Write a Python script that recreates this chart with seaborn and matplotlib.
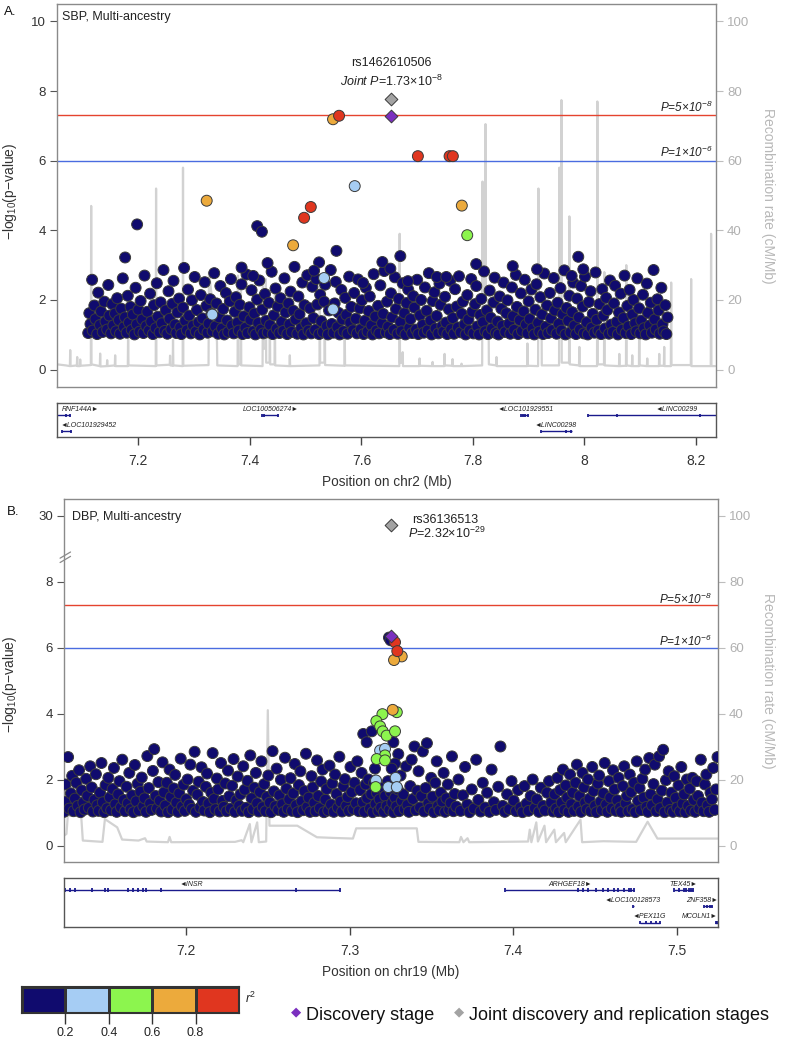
"""
Regional association plots (LocusZoom style) for the SBP and DBP multi-ancestry
lead variants: -log10(p) coloured by LD r2, recombination rate on a twin axis,
and a gene track under each panel.
"""
import numpy as np
import pandas as pd
import matplotlib.pyplot as plt
import seaborn as sns
from matplotlib.colors import ListedColormap

sns.set_theme(style="white")
plt.rcParams["font.family"] = ["Liberation Sans", "DejaVu Sans"]
plt.rcParams["mathtext.fontset"] = "custom"
plt.rcParams["mathtext.rm"] = "Liberation Sans"
plt.rcParams["mathtext.it"] = "Liberation Sans:italic"
plt.rcParams["mathtext.default"] = "regular"

LD_COLORS = ["#100b6e", "#a6cdf4", "#8cf54e", "#ecaa3c", "#e0361f"]
LD_TICKS = [0.2, 0.4, 0.6, 0.8]
NAVY = "#1a1a8c"
EDGE = "#3a3a3a"

# ---------------- panel A : SBP, chr2 ----------------
SBP_XLIM = (7.054, 8.236)
SBP_XTICKS = [7.2, 7.4, 7.6, 7.8, 8.0, 8.2]
SBP_XTICKLABELS = ["7.2", "7.4", "7.6", "7.8", "8", "8.2"]

# background variants (kb, -log10 p), r2 < 0.2
sbp_band = """
7110 1.05 7112 1.62 7114 1.31 7117 2.58 7118 1.12 7121 1.84 7123 1.45 7126 1.02 7128 2.21 7131 1.28 7133 1.67 7136 1.08 7139 1.95 7141 1.38 7144 1.15 7146 2.43 7148 1.55
7151 1.04 7153 1.88 7155 1.27 7158 1.61 7160 1.10 7162 2.05 7165 1.42 7167 1.03 7169 1.75 7172 2.62 7174 1.22 7176 1.50 7179 1.06 7181 2.12 7183 1.35 7186 1.80 7188 1.14
7190 1.58 7193 1.01 7195 2.35 7197 1.30 7200 1.72 7202 1.09 7204 1.97 7207 1.44 7209 1.05 7211 2.70 7214 1.25 7216 1.66 7219 1.12 7221 2.18 7223 1.38 7226 1.02 7228 1.85
7231 1.19 7233 2.48 7235 1.52 7238 1.07 7240 1.93 7242 1.33 7245 2.86 7247 1.11 7249 1.70 7252 1.03 7254 2.25 7256 1.46 7259 1.16 7261 1.89 7263 2.55 7266 1.29 7268 1.05
7270 1.64 7273 2.04 7275 1.21 7277 1.02 7280 1.78 7282 2.92 7284 1.40 7287 1.13 7289 2.30 7291 1.55 7294 1.04 7296 1.99 7298 1.26 7301 2.66 7303 1.09 7305 1.71 7308 1.36
7310 1.01 7312 2.14 7315 1.47 7317 1.15 7319 2.51 7322 1.83 7324 1.06 7326 1.32 7329 2.02 7331 1.60 7333 1.10 7336 2.77 7338 1.24 7340 1.90 7343 1.03 7345 1.50 7347 2.40
7350 1.18 7352 1.74 7354 1.01 7357 2.20 7359 1.41 7361 1.08 7364 1.96 7366 2.60 7368 1.27 7371 1.04 7373 1.66 7375 2.08 7378 1.35 7380 1.12 7382 1.86 7385 2.45 7387 1.02
7389 1.53 7392 1.20 7394 2.73 7396 1.05 7399 1.79 7401 1.43 7403 2.28 7406 1.10 7408 1.61 7410 1.01 7413 2.01 7415 1.34 7417 2.56 7420 1.15 7422 1.72 7424 1.04 7427 2.17 7429 1.40
7432 1.07 7434 1.92 7436 1.28 7439 2.81 7441 1.02 7443 1.56 7446 2.33 7448 1.17 7450 1.81 7453 1.05 7455 2.05 7457 1.37 7460 1.11 7462 2.62 7464 1.64 7467 1.02 7469 1.90
7471 1.30 7473 2.24 7475 1.08 7478 1.69 7480 2.95 7482 1.44 7485 1.03 7487 2.10 7489 1.59 7492 1.19 7494 2.50 7496 1.01 7498 1.85 7501 1.33 7503 2.71 7505 1.12 7508 1.76
7510 1.04 7512 2.38 7514 1.48 7517 1.14 7519 2.60 7521 1.87 7524 1.02 7526 2.15 7528 1.39 7531 1.08 7533 1.95 7535 2.44 7538 1.25 7540 1.01 7542 1.70 7545 2.86 7547 1.31
7550 1.06 7552 1.90 7554 2.52 7557 1.22 7559 1.63 7561 1.01 7564 2.29 7566 1.44 7568 1.10 7571 2.06 7573 1.57 7575 1.03 7578 2.67 7580 1.35 7582 1.80 7585 1.13 7587 2.20
7590 1.46 7592 1.04 7594 2.59 7597 1.76 7599 1.16 7601 1.99 7604 1.02 7606 1.40 7608 2.35 7611 1.09 7613 1.68 7615 2.10 7618 1.27 7620 1.01 7622 2.74 7625 1.52 7627 1.12
7630 1.83 7632 1.04 7634 2.42 7637 1.33 7639 1.60 7641 2.83 7644 1.07 7646 1.95 7648 1.23 7651 1.02 7653 2.19 7655 1.50 7658 1.14 7660 2.65 7662 1.74 7665 1.03 7667 2.03
7670 1.37 7672 1.10 7674 2.48 7677 1.62 7679 1.01 7681 1.91 7684 2.30 7686 1.20 7688 1.45 7691 1.05 7693 2.11 7695 1.78 7698 1.15 7700 2.58 7702 1.02 7705 1.56 7707 2.00
7710 1.28 7712 1.06 7714 2.36 7717 1.69 7719 1.13 7721 2.77 7724 1.41 7726 1.01 7728 1.97 7731 2.22 7733 1.18 7735 1.54 7738 1.04 7740 2.47 7742 1.86 7745 1.25 7747 1.09
7750 2.09 7752 1.35 7754 1.02 7757 1.73 7759 2.55 7761 1.16 7764 1.48 7766 1.03 7768 2.31 7771 1.81 7773 1.21 7775 2.68 7778 1.07 7780 1.60 7782 1.95 7785 1.30 7787 1.01
7790 2.14 7792 1.44 7794 1.12 7797 2.60 7799 1.66 7801 1.04 7804 1.88 7806 2.40 7808 1.24 7811 1.01 7813 1.57 7815 2.03 7818 1.36 7820 2.82 7822 1.10 7825 1.70 7827 1.02
7830 2.27 7832 1.49 7834 1.17 7837 1.93 7839 2.64 7841 1.05 7844 1.38 7846 1.01 7848 2.10 7851 1.75 7853 1.26 7855 2.50 7858 1.08 7860 1.62 7862 1.99 7865 1.32 7867 1.03
7870 2.36 7872 1.53 7874 1.14 7877 2.72 7879 1.80 7881 1.02 7884 1.42 7886 2.19 7888 1.11 7891 1.67 7893 2.58 7895 1.29 7898 1.04 7900 1.96 7902 1.45 7905 2.30 7907 1.18
7910 1.01 7912 1.72 7914 2.45 7917 1.34 7919 1.09 7921 2.08 7924 1.58 7926 1.02 7928 2.76 7931 1.23 7933 1.84 7935 1.05 7938 2.20 7940 1.47 7942 1.13 7945 2.63 7947 1.70
7950 1.03 7952 1.92 7954 1.31 7957 2.34 7959 1.12 7961 1.59 7964 2.85 7966 1.01 7968 1.77 7971 1.40 7973 2.12 7975 1.07 7978 1.65 7980 2.50 7982 1.26 7985 1.02 7987 2.04
7990 1.50 7992 1.15 7994 2.40 7997 1.81 7999 1.04 8001 2.67 8004 1.36 8006 1.01 8008 1.94 8011 2.25 8013 1.20 8015 1.60 8018 1.06 8020 2.79 8022 1.43 8025 1.12 8027 1.88
8030 1.02 8032 2.31 8034 1.55 8037 1.18 8039 2.06 8041 1.71 8044 1.03 8046 2.56 8048 1.29 8051 1.08 8053 1.90 8055 2.41 8058 1.37 8060 1.01 8062 1.64 8065 2.18 8067 1.14
8070 1.48 8072 2.70 8074 1.05 8077 1.83 8079 1.24 8081 2.29 8084 1.02 8086 1.58 8088 2.00 8091 1.33 8093 1.10 8095 2.62 8098 1.76 8100 1.04 8102 1.41 8105 2.15 8107 1.19
8110 1.01 8112 2.47 8114 1.63 8117 1.27 8119 1.92 8121 1.06 8124 2.86 8126 1.44 8128 1.15 8131 2.02 8133 1.70 8135 1.03 8138 2.35 8140 1.30 8142 1.10 8145 1.85 8147 1.02 8149 1.50
"""

# stand-out variants (Mb, -log10 p, LD bin 0..4)
sbp_top_pos = [7.5491, 7.5599, 7.5880, 7.3225, 7.7013, 7.7581, 7.7640, 7.5092, 7.4972,
               7.4775, 7.7801, 7.7898, 7.5330, 7.3325, 7.5491,
               7.1977, 7.1762, 7.4131, 7.4215, 7.4317, 7.5552, 7.6698, 7.6376, 7.6519,
               7.9890, 7.9980, 7.8714, 7.9151, 7.8059, 7.5241, 7.5151, 7.3851, 7.4059,
               7.7354, 7.7522, 7.9771, 7.6834, 7.6029]
sbp_top_logp = [7.19, 7.29, 5.27, 4.85, 6.13, 6.13, 6.13, 4.67, 4.36,
                3.57, 4.71, 3.86, 2.63, 1.58, 1.73,
                4.17, 3.22, 4.12, 3.96, 3.06, 3.41, 3.26, 3.09, 2.90,
                3.24, 2.88, 2.97, 2.88, 3.03, 3.08, 2.84, 2.93, 2.69,
                2.66, 2.66, 2.69, 2.54, 2.49]
sbp_top_ld = [3, 4, 1, 3, 4, 4, 4, 4, 4, 3, 3, 2, 1, 1, 1] + [0] * 23

SBP_LEAD = "rs1462610506"
sbp_lead_pos = 7.6537
sbp_lead_disc = 7.29
sbp_lead_joint = 7.76

# recombination rate (kb, cM/Mb)
sbp_recomb = [
    (7054.4, 1.5), (7070.0, 1.2), (7077.1, 1.0), (7077.7, 5.6), (7078.3, 1.0), (7089.6, 1.2),
    (7090.2, 3.6), (7090.8, 1.0), (7095.0, 1.0), (7095.6, 2.9), (7096.2, 1.1), (7114.7, 1.3),
    (7115.3, 47.0), (7115.9, 1.5), (7130.8, 1.0), (7131.4, 4.6), (7132.0, 0.9), (7143.4, 1.0),
    (7144.0, 2.7), (7144.6, 1.0), (7157.7, 1.2), (7158.3, 4.1), (7158.9, 1.0), (7181.0, 1.0),
    (7181.6, 12.0), (7182.2, 1.2), (7231.1, 1.0), (7231.7, 52.0), (7232.3, 1.2), (7256.2, 1.4),
    (7256.8, 4.0), (7257.4, 1.2), (7261.5, 1.1), (7262.1, 8.5), (7262.7, 1.2), (7279.4, 1.0),
    (7280.0, 58.0), (7280.6, 1.1), (7325.8, 1.3), (7326.6, 28.0), (7340.9, 8.0), (7341.5, 1.2),
    (7377.9, 1.0), (7378.5, 27.0), (7379.1, 1.5), (7383.3, 1.5), (7383.9, 25.0), (7384.5, 1.2),
    (7422.7, 1.0), (7423.3, 24.0), (7423.9, 6.0), (7428.0, 6.0), (7428.6, 26.0), (7429.2, 2.0),
    (7435.2, 2.0), (7435.8, 18.0), (7436.4, 1.5), (7444.2, 1.5), (7444.8, 22.0), (7445.4, 1.2),
    (7471.0, 1.0), (7471.6, 4.1), (7472.2, 1.0), (7524.8, 1.2), (7525.4, 24.0), (7526.0, 2.0),
    (7533.7, 2.0), (7534.3, 25.0), (7534.9, 1.3), (7569.5, 1.1), (7570.1, 10.0), (7570.7, 1.2),
    (7668.0, 1.0), (7668.6, 39.0), (7669.2, 2.0), (7673.4, 2.0), (7674.0, 5.0), (7674.6, 1.0),
    (7703.8, 1.0), (7704.4, 3.2), (7705.0, 1.1), (7727.1, 1.0), (7727.7, 2.2), (7728.3, 1.0),
    (7748.6, 1.0), (7749.2, 4.5), (7749.8, 1.2), (7762.9, 1.1), (7763.5, 3.0), (7764.1, 1.0),
    (7779.0, 1.0), (7779.6, 1.7), (7780.2, 1.0), (7816.6, 1.2), (7817.2, 54.0), (7817.8, 22.0),
    (7822.0, 22.0), (7822.6, 70.5), (7823.2, 20.0), (7828.0, 20.0), (7828.6, 1.5), (7841.7, 1.2),
    (7842.3, 3.6), (7842.9, 1.0), (7897.2, 1.0), (7897.8, 7.5), (7898.4, 1.1), (7916.9, 1.0),
    (7917.5, 52.0), (7918.1, 20.0), (7922.9, 20.0), (7923.5, 1.2), (7954.5, 1.2), (7955.1, 58.0),
    (7955.7, 25.0), (7958.1, 25.0), (7958.7, 77.4), (7959.3, 2.0), (7972.4, 2.0), (7973.0, 44.0),
    (7973.6, 1.5), (7990.3, 1.2), (7990.9, 6.5), (7991.5, 1.0), (8022.6, 1.0), (8023.2, 77.0),
    (8023.8, 1.5), (8035.1, 1.5), (8035.7, 28.0), (8036.3, 1.2), (8062.0, 1.0), (8062.6, 4.5),
    (8063.2, 1.0), (8074.5, 1.1), (8075.1, 30.0), (8075.7, 1.2), (8085.2, 1.0), (8085.8, 4.1),
    (8086.4, 1.0), (8097.8, 1.0), (8098.4, 20.0), (8099.0, 1.2), (8112.1, 1.0), (8112.7, 3.2),
    (8113.3, 1.0), (8133.6, 1.0), (8134.2, 4.5), (8134.8, 1.1), (8142.5, 1.1), (8143.1, 6.5),
    (8143.7, 1.0), (8155.0, 1.0), (8155.6, 25.0), (8156.2, 1.3), (8190.8, 1.3), (8191.4, 26.0),
    (8192.0, 1.0), (8226.6, 1.0), (8227.2, 39.0), (8227.8, 1.0), (8234.4, 1.0),
]

sbp_gene_names = ["RNF144A", "LOC101929452", "LOC100506274", "LOC101929551", "LINC00298", "LINC00299"]
sbp_gene_start = [7.0544, 7.0628, 7.4210, 7.8865, 7.9223, 8.0070]
sbp_gene_end = [7.0777, 7.0790, 7.4507, 7.8995, 7.9770, 8.2360]
sbp_gene_row = [0, 1, 0, 0, 1, 0]
sbp_gene_strand = ["+", "-", "+", "-", "-", "-"]
sbp_gene_exons = [[7.0710, 7.0777], [7.0628, 7.0790], [7.4210, 7.4255, 7.4507],
                  [7.8865, 7.8900, 7.8940, 7.8995], [7.9223, 7.9670, 7.9760],
                  [8.0070, 8.0590, 8.2070]]
sbp_label_x = [7.063, 7.060, 7.4376, 7.8950, 7.9480, 8.1650]
sbp_label_ha = ["left", "left", "center", "center", "center", "center"]

# ---------------- panel B : DBP, chr19 ----------------
DBP_XLIM = (7.1255, 7.525)
DBP_XTICKS = [7.2, 7.3, 7.4, 7.5]
DBP_XTICKLABELS = ["7.2", "7.3", "7.4", "7.5"]

dbp_band = """
7125.5 1.02 7126.4 1.85 7127.1 1.33 7128.0 2.68 7128.8 1.12 7129.7 1.58 7130.5 2.11 7131.3 1.04 7132.2 1.42 7133.0 1.90 7133.9 1.20 7134.7 2.28 7135.6 1.01 7136.4 1.67 7137.3 1.30 7138.1 1.09 7139.0 2.02 7139.8 1.50 7140.7 1.14 7141.5 2.40 7142.4 1.76 7143.2 1.03 7144.1 1.38
7145.0 2.16 7145.8 1.22 7146.7 1.05 7147.5 1.60 7148.4 2.50 7149.2 1.31 7150.1 1.01 7150.9 1.83 7151.8 1.13 7152.6 2.05 7153.5 1.46 7154.3 1.07 7155.2 1.71 7156.0 2.35 7156.9 1.25 7157.7 1.02 7158.6 1.55 7159.4 1.95 7160.3 1.16 7161.1 2.60 7162.0 1.38 7162.8 1.04 7163.7 1.78 7164.5 1.28
7165.4 2.20 7166.2 1.10 7167.1 1.52 7167.9 1.01 7168.8 2.44 7169.6 1.34 7170.5 1.87 7171.3 1.06 7172.2 1.63 7173.0 2.06 7173.9 1.19 7174.7 1.43 7175.6 1.02 7176.4 2.71 7177.3 1.74 7178.1 1.27 7179.0 1.08 7179.8 2.26 7180.6 2.92 7181.5 1.50 7182.3 1.12 7183.2 1.92 7184.0 1.36
7184.9 1.03 7185.7 2.52 7186.6 1.61 7187.4 1.21 7188.3 1.90 7189.1 1.01 7190.0 2.30 7190.8 1.47 7191.7 1.09 7192.5 1.73 7193.4 2.14 7194.2 1.30 7195.1 1.02 7195.9 1.58 7196.8 2.63 7197.6 1.18 7198.5 1.84 7199.3 1.05 7200.2 1.40 7201.0 2.00 7201.9 1.24 7202.7 2.45 7203.6 1.11 7204.4 1.66
7205.3 2.84 7206.1 1.02 7207.0 1.54 7207.8 1.93 7208.7 1.15 7209.5 2.37 7210.4 1.32 7211.2 1.06 7212.1 1.78 7212.9 2.18 7213.8 1.27 7214.6 1.01 7215.5 1.60 7216.3 2.80 7217.2 1.41 7218.0 1.10 7218.9 2.03 7219.7 1.70 7220.6 1.03 7221.4 2.50 7222.3 1.35 7223.1 1.17 7224.0 1.88 7224.8 1.04
7225.7 2.27 7226.5 1.49 7227.4 1.12 7228.2 1.81 7229.1 2.62 7229.9 1.02 7230.8 1.37 7231.6 2.09 7232.5 1.20 7233.3 1.55 7234.2 1.05 7235.0 2.40 7235.9 1.69 7236.7 1.14 7237.6 1.96 7238.4 1.01 7239.3 2.73 7240.1 1.43 7241.0 1.10 7241.8 1.75 7242.7 2.20 7243.5 1.28 7244.4 1.03 7245.2 1.62
7246.1 2.55 7246.9 1.16 7247.8 1.86 7248.6 1.04 7249.5 1.47 7250.3 2.12 7251.2 1.30 7252.0 1.01 7252.9 2.86 7253.7 1.64 7254.6 1.19 7255.4 2.33 7256.3 1.08 7257.1 1.52 7258.0 1.99 7258.8 1.25 7259.7 1.02 7260.5 2.66 7261.4 1.72 7262.2 1.11 7263.1 1.40 7263.9 2.04 7264.8 1.05
7265.6 1.58 7266.5 2.47 7267.3 1.22 7268.2 1.01 7269.0 1.83 7269.9 2.25 7270.7 1.34 7271.6 1.07 7272.4 1.65 7273.3 2.78 7274.1 1.17 7275.0 1.45 7275.8 1.02 7276.7 2.10 7277.5 1.76 7278.4 1.29 7279.2 1.04 7280.1 2.58 7280.9 1.50 7281.8 1.13 7282.6 1.94 7283.5 2.30 7284.3 1.01
7285.2 1.39 7286.0 1.71 7286.9 1.06 7287.7 2.42 7288.6 1.24 7289.4 1.88 7290.3 1.02 7291.1 2.15 7292.0 1.56 7292.8 1.15 7293.7 2.69 7294.5 1.33 7295.4 1.03 7296.2 1.80 7297.1 2.01 7297.9 1.20 7298.8 1.47 7299.6 1.05 7300.5 2.38 7301.3 1.62 7302.2 1.10 7303.0 1.90 7303.9 1.28 7304.7 2.55
7305.6 1.04 7306.4 1.68 7307.3 2.20 7308.1 1.31 7309.0 1.02 7309.8 1.85 7310.7 1.44 7311.5 2.00 7312.4 1.12 7313.2 1.56 7314.1 1.01 7314.9 1.90 7315.8 1.26 7316.6 1.60 7317.5 1.05 7318.3 1.40 7319.2 1.15 7320.0 1.75 7320.9 1.02 7321.7 1.50 7322.6 1.20 7323.4 1.95 7324.3 1.08
7325.1 1.62 7326.0 1.30 7326.8 1.01 7327.7 1.45 7328.5 1.18 7329.4 1.70 7330.2 1.04 7331.1 2.12 7331.9 1.35 7332.8 1.55 7333.6 1.10 7334.5 2.40 7335.3 1.23 7336.2 1.02 7337.0 1.80 7337.9 2.60 7338.7 1.41 7339.6 3.00 7340.4 1.07 7341.3 1.66 7342.1 2.25 7343.0 1.15 7343.8 1.50 7344.7 2.85
7345.5 1.03 7346.4 1.74 7347.2 3.10 7348.1 1.28 7348.9 1.12 7349.8 2.05 7350.6 1.48 7351.5 1.01 7352.3 1.90 7353.2 2.55 7354.0 1.20 7354.9 1.06 7355.7 1.60 7356.6 1.33 7357.4 2.20 7358.3 1.02 7359.1 1.43 7360.0 1.85 7360.8 1.09 7361.7 1.29 7362.5 2.70 7363.4 1.04 7364.2 1.56
7365.1 1.18 7366.5 2.00 7367.8 1.05 7369.2 1.52 7370.5 2.38 7371.9 1.24 7373.2 1.01 7374.6 1.70 7375.9 1.12 7377.3 2.60 7378.6 1.38 7380.0 1.03 7381.3 1.90 7382.7 1.15 7384.0 1.60
7385.4 1.02 7386.7 2.30 7388.1 1.31 7389.4 1.08 7390.8 1.78 7392.1 3.00 7393.5 1.20 7394.8 1.02 7396.2 1.55 7397.5 1.10 7398.9 1.95 7400.2 1.36 7401.6 1.04 7402.9 1.68 7404.3 1.15
7405.6 1.01 7406.8 1.80 7408.1 1.27 7409.3 1.05 7410.6 1.50 7411.8 2.00 7413.1 1.13 7414.3 1.40 7415.6 1.02 7416.8 1.75 7418.1 1.20 7419.3 1.06 7420.6 1.60 7421.8 1.95 7423.1 1.30 7424.3 1.03
7425.2 1.55 7426.1 1.12 7426.9 2.05 7427.8 1.01 7428.6 1.68 7429.5 1.30 7430.3 2.30 7431.2 1.08 7432.0 1.82 7432.9 1.45 7433.7 1.02 7434.6 2.15 7435.4 1.25 7436.3 1.60 7437.1 1.05 7438.0 1.90 7438.8 2.45 7439.7 1.18 7440.5 1.50 7441.4 1.02 7442.2 2.20 7443.1 1.76 7443.9 1.30 7444.8 1.10
7445.6 2.00 7446.5 1.42 7447.3 1.04 7448.2 2.38 7449.0 1.65 7449.9 1.20 7450.7 1.01 7451.6 1.88 7452.4 2.12 7453.3 1.33 7454.1 1.07 7455.0 1.58 7455.8 2.50 7456.7 1.24 7457.5 1.02 7458.4 1.95 7459.2 1.45 7460.1 1.12 7460.9 2.28 7461.8 1.70 7462.6 1.05 7463.5 1.37 7464.3 2.05
7465.2 1.15 7466.0 1.02 7466.9 1.80 7467.7 2.40 7468.6 1.28 7469.4 1.50 7470.3 1.04 7471.1 2.15 7472.0 1.62 7472.8 1.10 7473.7 1.90 7474.5 1.01 7475.4 2.55 7476.2 1.35 7477.1 1.74 7477.9 1.07 7478.8 2.02 7479.6 1.45 7480.5 2.30 7481.3 1.17 7482.2 1.02 7483.0 2.65 7483.9 1.55 7484.7 1.22
7485.6 1.86 7486.4 2.45 7487.3 1.04 7488.1 1.40 7489.0 2.70 7489.8 1.13 7490.7 1.66 7491.5 2.90 7492.4 1.01 7493.2 1.98 7494.1 1.30 7494.9 2.25 7495.8 1.08 7496.6 1.60 7497.5 1.02 7498.3 2.10 7499.2 1.44 7500.0 1.15 7500.9 1.82 7501.7 1.03 7502.6 2.38 7503.4 1.27 7504.3 1.55
7505.1 1.01 7506.0 2.00 7506.8 1.20 7507.7 1.72 7508.5 1.06 7509.4 2.05 7510.2 1.38 7511.1 1.02 7511.9 1.95 7512.8 1.50 7513.6 1.12 7514.5 2.60 7515.3 1.30 7516.2 1.04 7517.0 1.85 7517.9 2.15 7518.7 1.22 7519.6 1.02 7520.4 1.60 7521.3 1.40 7522.1 2.35 7523.0 1.08 7523.8 1.70 7524.7 2.68
"""

dbp_top_pos = [7.3240, 7.3250, 7.3277, 7.3291, 7.3318, 7.3271, 7.3263, 7.3288, 7.3200, 7.3163,
               7.3186, 7.3202, 7.3226, 7.3277, 7.3083, 7.3135, 7.3104, 7.3267, 7.3186, 7.3216,
               7.3216, 7.3165, 7.3216, 7.3297, 7.3277, 7.3155, 7.3257, 7.3161, 7.3281, 7.3236,
               7.3288, 7.3159]
dbp_top_logp = [6.30, 6.22, 6.16, 5.89, 5.73, 5.62, 4.11, 4.04, 3.98, 3.77,
                3.61, 3.46, 3.33, 3.46, 3.38, 3.46, 3.13, 3.13, 2.88, 2.93,
                2.73, 2.62, 2.58, 2.77, 2.48, 2.33, 2.33, 1.97, 2.05, 1.77,
                1.77, 1.77]
dbp_top_ld = [0, 0, 4, 4, 3, 3, 3, 2, 2, 2,
              2, 2, 2, 2, 0, 0, 0, 0, 1, 1,
              2, 2, 2, 0, 0, 0, 0, 1, 1, 1,
              1, 2]

DBP_LEAD = "rs36136513"
dbp_lead_pos = 7.3253
dbp_lead_disc = 6.36
dbp_lead_joint = 28.63

dbp_recomb = [
    (7125.5, 3.0), (7127.0, 3.5), (7127.8, 9.0), (7136.0, 9.0), (7137.0, 1.5), (7149.0, 1.1),
    (7150.5, 8.0), (7158.0, 5.5), (7161.0, 1.8), (7171.0, 1.5), (7175.0, 2.2), (7176.0, 1.2),
    (7189.0, 1.0), (7190.0, 2.6), (7191.0, 1.0), (7230.0, 1.1), (7234.0, 1.6), (7235.0, 1.0),
    (7239.0, 6.5), (7240.0, 1.0), (7243.5, 7.0), (7244.5, 1.0), (7249.0, 1.2), (7250.0, 41.0),
    (7251.0, 6.0), (7268.0, 6.0), (7280.0, 2.5), (7290.0, 2.3), (7302.0, 2.1), (7304.0, 5.2),
    (7341.0, 5.2), (7342.0, 1.1), (7367.0, 1.0), (7368.0, 2.6), (7369.5, 1.0), (7372.0, 2.2),
    (7373.0, 1.0), (7409.0, 1.2), (7410.0, 4.8), (7411.0, 1.0), (7414.0, 7.0), (7415.0, 1.2),
    (7419.0, 6.0), (7420.0, 1.0), (7425.0, 4.8), (7426.0, 1.0), (7431.0, 3.8), (7432.0, 1.0),
    (7441.0, 7.8), (7442.0, 1.0), (7455.0, 1.3), (7475.0, 1.1), (7482.0, 7.2), (7488.0, 2.1),
    (7525.0, 2.1),
]

dbp_gene_names = ["INSR", "ARHGEF18", "TEX45", "LOC100128573", "ZNF358", "PEX11G", "MCOLN1"]
dbp_gene_start = [7.1120, 7.3950, 7.4979, 7.4730, 7.5164, 7.4771, 7.5231]
dbp_gene_end = [7.2944, 7.4734, 7.5100, 7.4737, 7.5216, 7.4896, 7.5300]
dbp_gene_row = [0, 0, 0, 1, 1, 2, 2]
dbp_gene_strand = ["-", "+", "+", "-", "+", "-", "+"]
dbp_gene_exons = [
    [7.1261, 7.1292, 7.1323, 7.1424, 7.1506, 7.1522, 7.1645, 7.1676, 7.1706, 7.1735, 7.1753,
     7.1847, 7.2674, 7.2944],
    [7.3950, 7.4396, 7.4427, 7.4458, 7.4504, 7.4550, 7.4581, 7.4612, 7.4642, 7.4673, 7.4704,
     7.4719, 7.4734],
    [7.4979, 7.5009, 7.5040, 7.5055, 7.5070, 7.5086, 7.5100],
    [7.4733],
    [7.5164, 7.5180, 7.5200, 7.5216],
    [7.4771, 7.4810, 7.4840, 7.4870, 7.4896],
    [7.5235, 7.5245],
]
dbp_label_x = [7.2032, 7.4346, 7.5041, 7.4727, 7.5250, 7.4830, 7.5250]
dbp_label_ha = ["center", "center", "center", "center", "right", "center", "right"]


def parse_band(text):
    vals = np.array(text.split(), dtype=float).reshape(-1, 2)
    return vals[:, 0] / 1000.0, vals[:, 1]


def dbp_scale(v):
    """Broken y-axis for panel B: values above the break are squeezed so 30 sits at 10."""
    v = np.asarray(v, dtype=float)
    return np.where(v > 10, 10 - (30 - v) * 0.212, v)


def draw_assoc(ax, band_text, top_pos, top_logp, top_ld, recomb, xlim, scale=None):
    bx, by = parse_band(band_text)
    df = pd.DataFrame({
        "pos": np.concatenate([bx, top_pos]),
        "logp": np.concatenate([by, top_logp]),
        "ld": np.concatenate([np.zeros(len(bx), dtype=int), top_ld]),
    })
    df = df.sort_values("ld", kind="stable")
    if scale is not None:
        df["logp"] = scale(df["logp"])

    rax = ax.twinx()
    rec = np.array(recomb)
    sns.lineplot(x=rec[:, 0] / 1000.0, y=rec[:, 1], sort=False, estimator=None,
                 color="#d2d2d2", lw=1.6, ax=rax)
    rax.set_ylim(-5, 105)
    rax.set_yticks([0, 20, 40, 60, 80, 100])
    rax.tick_params(axis="y", right=True, length=5, width=0.8, color="#bdbdbd",
                    labelsize=9.5, labelcolor="#b0b0b0", pad=3)
    rax.set_ylabel("Recombination rate (cM/Mb)", color="#b8b8b8", fontsize=10,
                   rotation=270, va="bottom")
    for sp in rax.spines.values():
        sp.set_visible(False)

    ax.set_zorder(rax.get_zorder() + 1)
    ax.patch.set_visible(False)

    ax.axhline(7.30103, color="#e5432f", lw=1.0, zorder=1)
    ax.axhline(6.0, color="#4a6ce0", lw=1.0, zorder=1)

    sns.scatterplot(data=df, x="pos", y="logp", hue="ld", palette=dict(enumerate(LD_COLORS)),
                    s=62, edgecolor=EDGE, linewidth=0.7, legend=False, ax=ax, zorder=3)

    ax.set_xlim(*xlim)
    ax.set_ylim(-0.5, 10.5)
    ax.set_xlabel("")
    ax.set_xticks([])
    ax.set_yticks([0, 2, 4, 6, 8, 10])
    ax.tick_params(axis="y", left=True, length=5, width=0.8, color="#555555",
                   labelsize=9.5, labelcolor="#333333", pad=3)
    ax.set_ylabel("\u2212log$_{10}$(p\u2212value)", color="#333333", fontsize=10)
    for sp in ax.spines.values():
        sp.set_color("#8a8a8a")
        sp.set_linewidth(1.0)
    rax.set_xlim(*xlim)
    return rax


def draw_genes(gax, names, starts, ends, rows, strands, exons, label_x, label_ha,
               xlim, height, row_step, xticks, xticklabels, xlabel):
    for name, s, e, r, st, ex, lx, ha in zip(names, starts, ends, rows, strands, exons,
                                            label_x, label_ha):
        y = 12.3 + row_step * r
        gax.plot([s, e], [y, y], color=NAVY, lw=1.0, solid_capstyle="butt")
        gax.vlines(ex, y - 1.7, y + 1.7, color=NAVY, lw=1.3)
        label = f"{name}\u25ba" if st == "+" else f"\u25c4{name}"
        gax.text(lx, y - 6.0, label, fontsize=5, style="italic", ha=ha, va="center",
                 color="#222222")
    gax.set_xlim(*xlim)
    gax.set_ylim(height, 0)
    gax.set_yticks([])
    gax.set_xticks(xticks)
    gax.set_xticklabels(xticklabels)
    gax.tick_params(axis="x", bottom=True, direction="out", length=6, width=1.0,
                    color="#444444", labelsize=10, labelcolor="#333333", pad=6)
    gax.set_xlabel(xlabel, fontsize=9.8, color="#333333", labelpad=5)
    for sp in gax.spines.values():
        sp.set_color("#555555")
        sp.set_linewidth(1.0)


fig = plt.figure(figsize=(7.88, 10.5), dpi=100)
W, H = 788.0, 1050.0


def box(left, top, right, bottom):
    return [left / W, 1 - bottom / H, (right - left) / W, (bottom - top) / H]


# ---- panel A
axA = fig.add_axes(box(57, 4, 716, 387))
rA = draw_assoc(axA, sbp_band, sbp_top_pos, sbp_top_logp, sbp_top_ld, sbp_recomb, SBP_XLIM)
axA.scatter([sbp_lead_pos], [sbp_lead_joint], marker="D", s=42, color="#a3a3a3",
            edgecolor=EDGE, linewidth=0.7, zorder=5)
axA.scatter([sbp_lead_pos], [sbp_lead_disc], marker="D", s=42, color="#7b2fbf",
            edgecolor=EDGE, linewidth=0.7, zorder=5)
axA.text(sbp_lead_pos, 8.80, SBP_LEAD, ha="center", va="center", fontsize=9, color="#222222")
axA.text(sbp_lead_pos, 8.28, "$\\mathit{Joint\\ P}$=1.73\u00d710$^{-8}$", ha="center",
         va="center", fontsize=9, color="#222222")
axA.text(0.0076, 0.966, "SBP, Multi-ancestry", transform=axA.transAxes, fontsize=9,
         ha="left", va="center", color="#222222")
axA.text(0.9955, 7.54, "P=5\u00d710$^{-8}$", transform=axA.get_yaxis_transform(),
         ha="right", va="center", fontsize=8.5, style="italic", color="#222222")
axA.text(0.9955, 6.25, "P=1\u00d710$^{-6}$", transform=axA.get_yaxis_transform(),
         ha="right", va="center", fontsize=8.5, style="italic", color="#222222")
axA.yaxis.set_label_coords(-0.0575, 0.51)
rA.yaxis.set_label_coords(1.068, 0.5)

gA = fig.add_axes(box(57, 403, 716, 437))
draw_genes(gA, sbp_gene_names, sbp_gene_start, sbp_gene_end, sbp_gene_row, sbp_gene_strand,
           sbp_gene_exons, sbp_label_x, sbp_label_ha, SBP_XLIM, 34, 16.0,
           SBP_XTICKS, SBP_XTICKLABELS, "Position on chr2 (Mb)")

# ---- panel B
axB = fig.add_axes(box(64, 499, 718, 862))
rB = draw_assoc(axB, dbp_band, dbp_top_pos, dbp_top_logp, dbp_top_ld, dbp_recomb, DBP_XLIM,
                scale=dbp_scale)
axB.set_yticklabels(["0", "2", "4", "6", "8", "30"])
axB.scatter([dbp_lead_pos], dbp_scale([dbp_lead_joint]), marker="D", s=42, color="#a3a3a3",
            edgecolor=EDGE, linewidth=0.7, zorder=5)
axB.scatter([dbp_lead_pos], [dbp_lead_disc], marker="D", s=42, color="#7b2fbf",
            edgecolor=EDGE, linewidth=0.7, zorder=5)
axB.text(7.3379, 9.87, DBP_LEAD, ha="left", va="center", fontsize=9, color="#222222")
axB.text(7.3357, 9.45, "$\\mathit{P}$=2.32\u00d710$^{-29}$", ha="left", va="center",
         fontsize=9, color="#222222")
axB.text(0.012, 0.950, "DBP, Multi-ancestry", transform=axB.transAxes, fontsize=9,
         ha="left", va="center", color="#222222")
axB.text(0.990, 7.47, "P=5\u00d710$^{-8}$", transform=axB.get_yaxis_transform(),
         ha="right", va="center", fontsize=8.5, style="italic", color="#222222")
axB.text(0.990, 6.19, "P=1\u00d710$^{-6}$", transform=axB.get_yaxis_transform(),
         ha="right", va="center", fontsize=8.5, style="italic", color="#222222")
for dy in (0.0, 0.012):
    axB.plot([-0.006, 0.010], [0.825 + dy, 0.842 + dy], transform=axB.transAxes,
             color="#8a8a8a", lw=0.9, clip_on=False, zorder=6)
axB.yaxis.set_label_coords(-0.0685, 0.49)
rB.yaxis.set_label_coords(1.066, 0.5)

gB = fig.add_axes(box(64, 877.7, 718, 927.3))
draw_genes(gB, dbp_gene_names, dbp_gene_start, dbp_gene_end, dbp_gene_row, dbp_gene_strand,
           dbp_gene_exons, dbp_label_x, dbp_label_ha, DBP_XLIM, 49.6, 16.35,
           DBP_XTICKS, DBP_XTICKLABELS, "Position on chr19 (Mb)")

# ---- panel letters
fig.text(4 / W, 1 - 12 / H, "A.", fontsize=9.5, ha="left", va="center", color="#111111")
fig.text(7 / W, 1 - 512 / H, "B.", fontsize=9.5, ha="left", va="center", color="#111111")

# ---- LD legend
cax = fig.add_axes(box(22, 987, 239, 1013))
sns.heatmap(np.arange(5).reshape(1, 5), cmap=ListedColormap(LD_COLORS), cbar=False,
            linewidths=1.0, linecolor="#333333", xticklabels=False, yticklabels=False, ax=cax)
cax.set_xticks([1, 2, 3, 4])
cax.set_xticklabels([f"{t:.1f}" for t in LD_TICKS])
cax.tick_params(axis="x", bottom=True, length=8, width=1.0, color="#333333",
                labelsize=9, labelcolor="#222222", pad=2)
for sp in cax.spines.values():
    sp.set_visible(True)
    sp.set_color("#333333")
    sp.set_linewidth(1.5)
fig.text(251 / W, 1 - 998 / H, "$\\mathit{r}^2$", fontsize=9, ha="center", va="center")

fig.text(296 / W, 1 - 1012 / H, "\u25c6", fontsize=9.5, color="#7b2fbf", ha="center",
         va="center", family=["DejaVu Sans"])
fig.text(306 / W, 1 - 1015 / H, "Discovery stage", fontsize=13, ha="left", va="center",
         color="#111111")
fig.text(459 / W, 1 - 1012 / H, "\u25c6", fontsize=9.5, color="#a3a3a3", ha="center",
         va="center", family=["DejaVu Sans"])
fig.text(469 / W, 1 - 1015 / H, "Joint discovery and replication stages", fontsize=13,
         ha="left", va="center", color="#111111")

fig.savefig("out.png", dpi=100)
